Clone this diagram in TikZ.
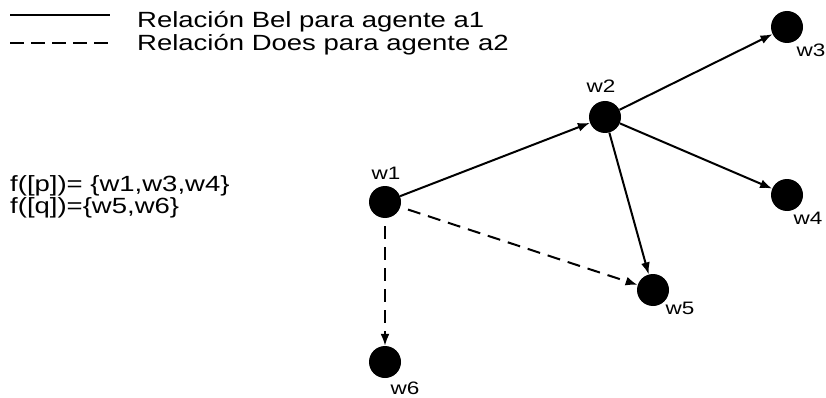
\documentclass[tikz,border=0pt]{standalone}
\usepackage{fontspec}
\setmainfont{Liberation Sans}[FakeStretch=1.25]
\usetikzlibrary{arrows.meta}

\tikzset{
  world/.style={circle, fill=black, minimum size=32pt, inner sep=0pt},
  wlabel/.style={font=\fontsize{18}{20}\selectfont, inner sep=0pt},
  legend/.style={font=\fontsize{22}{24}\selectfont, inner sep=0pt, anchor=base west},
  bel/.style={line width=2pt, -{Latex[length=12pt,width=9pt]}},
  does/.style={bel, dash pattern=on 13pt off 8pt, shorten <=8pt},
}

\begin{document}
\begin{tikzpicture}[x=1pt, y=-1pt]
\useasboundingbox (0,0) rectangle (826,398);

% legend
\coordinate (belA) at (10,15);
\coordinate (belB) at (110,15);
\coordinate (doesA) at (10,43);
\coordinate (doesB) at (110,43);
\draw[line width=2pt] (belA) -- (belB);
\draw[line width=2pt, dash pattern=on 14pt off 7pt] (doesA) -- (doesB);
\node[legend] (belTxt) at (137,28) {Relación Bel para agente a1};
\node[legend] (doesTxt) at (137,51) {Relación Does para agente a2};

% valuation
\node[legend] (fP) at (10,191) {f([p])= \{w1,w3,w4\}};
\node[legend] (fQ) at (10,213) {f([q])=\{w5,w6\}};

% worlds
\node[world] (w1) at (385,202) {};
\node[world] (w2) at (605,117) {};
\node[world] (w3) at (787,27) {};
\node[world] (w4) at (787,195) {};
\node[world] (w5) at (653,290) {};
\node[world] (w6) at (385,362) {};

\node[wlabel] (l1) at (386,173) {w1};
\node[wlabel] (l2) at (601,86) {w2};
\node[wlabel] (l3) at (811,50) {w3};
\node[wlabel] (l4) at (808,218) {w4};
\node[wlabel] (l5) at (680,308) {w5};
\node[wlabel] (l6) at (405,388) {w6};

% Bel edges
\draw[bel] (w1) -- (w2);
\draw[bel] (w2) -- (w3);
\draw[bel] (w2) -- (w4);
\draw[bel] (w2) -- (w5);

% Does edges
\draw[does] (w1) -- (w5);
\draw[does] (w1) -- (w6);
\end{tikzpicture}
\end{document}
